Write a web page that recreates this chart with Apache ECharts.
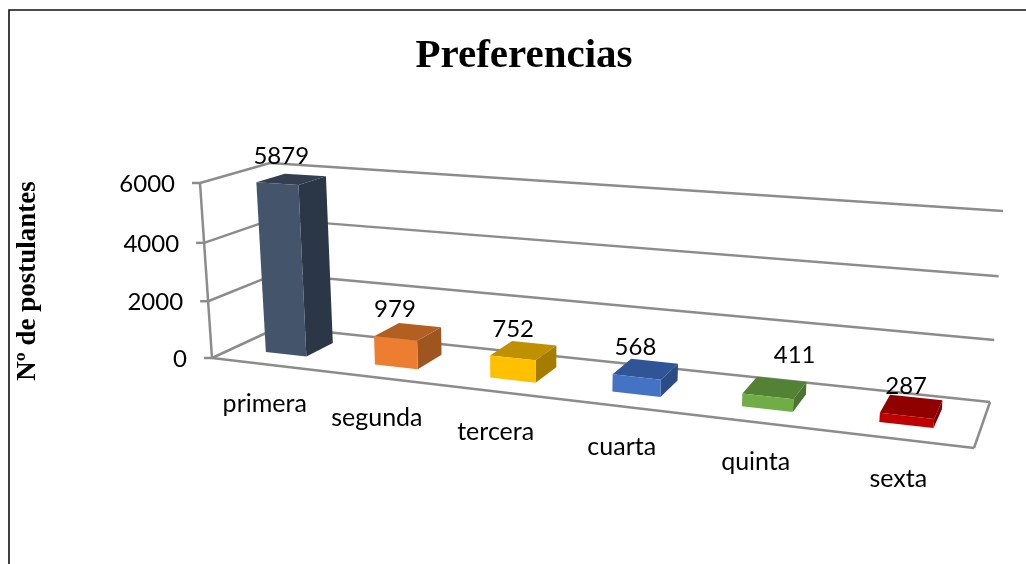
<!DOCTYPE html>
<html>
<head>
<meta charset="utf-8">
<style>
  html, body { margin: 0; padding: 0; background: #fff; }
  #chart { width: 1026px; height: 564px; }
</style>
<script src="https://cdn.jsdelivr.net/npm/echarts@6/dist/echarts.min.js"></script>
</head>
<body>
<div id="chart"></div>
<script>
const categories = ['primera', 'segunda', 'tercera', 'cuarta', 'quinta', 'sexta']
const values = [5879, 979, 752, 568, 411, 287]
const yTicks = [0, 2000, 4000, 6000]

// front, top, side
const palette = [
  ['#44546a', '#333f50', '#2b3747'],
  ['#ed7d31', '#b45f22', '#9f5520'],
  ['#ffc000', '#bf9000', '#a67c00'],
  ['#4472c4', '#2f5597', '#2b4c86'],
  ['#70ad47', '#548235', '#4a7430'],
  ['#c00000', '#900000', '#800000']
]
// hand moved labels in the original
const labelNudge = [[-14, -4], [-15, -1], [-11, 1], [-9, 1], [23, -9], [0, 4]]

const gridBox = { left: 212, top: 183, width: 762, height: 175 }
const axisColor = '#8c8c8c'
const labelFont = '24px Lato, "Noto Sans", sans-serif'
const catFont = '25px Lato, "Noto Sans", sans-serif'

// floor corners of the 3d box: front left, front right, back right, back left
const FL = [212, 358], FR = [974, 448], BR = [990, 402], BL = [279, 327]
const upFL = [-12, -175], upFR = [15, -205], upBR = [13, -191], upBL = [-9, -164]

const sx = FL[0] - FR[0] + BR[0] - BL[0]
const sy = FL[1] - FR[1] + BR[1] - BL[1]
const d1x = FR[0] - BR[0], d2x = BL[0] - BR[0]
const d1y = FR[1] - BR[1], d2y = BL[1] - BR[1]
const det = d1x * d2y - d2x * d1y
const g = (sx * d2y - d2x * sy) / det
const h = (d1x * sy - sx * d1y) / det

function project(t0, d, v0) {
  // the original's perspective is a bit softer than the plain homography
  const t = t0 + 0.045 * t0 * (1 - t0)
  const v = v0 - 0.04 * v0 * (1 - v0)
  const w = g * t + h * d + 1
  const x = ((FR[0] - FL[0] + g * FR[0]) * t + (BL[0] - FL[0] + h * BL[0]) * d + FL[0]) / w
  const y = ((FR[1] - FL[1] + g * FR[1]) * t + (BL[1] - FL[1] + h * BL[1]) * d + FL[1]) / w
  const up = [0, 1].map(k =>
    (1 - d) * ((1 - t) * upFL[k] + t * upFR[k]) + d * ((1 - t) * upBL[k] + t * upBR[k]))
  return [x + up[0] * v, y + up[1] * v]
}
function toT(px) { return (px - gridBox.left) / gridBox.width }
function toV(py) { return (gridBox.top + gridBox.height - py) / gridBox.height }

function line(a, b) {
  return {
    type: 'line',
    shape: { x1: a[0], y1: a[1], x2: b[0], y2: b[1] },
    style: { stroke: axisColor, lineWidth: 2.5 }
  }
}
function text(str, p, font, align) {
  return {
    type: 'text',
    x: p[0],
    y: p[1],
    style: { text: str, font: font || labelFont, fill: '#000', align: align || 'center', verticalAlign: 'middle' }
  }
}
function face(points, color) {
  return { type: 'polygon', shape: { points: points }, style: { fill: color } }
}

function renderWall(params, api) {
  const tick = api.value(1)
  const v = toV(api.coord([0, tick])[1])
  const step = toV(api.coord([0, 2000])[1])
  const a = project(0, 0, v), b = project(0, 1, v), c = project(1, 1, v)
  const children = [
    line([a[0] - 8, a[1]], a),
    line(a, b),
    line(b, c),
    text(String(tick), [a[0] - 25, a[1] + 1], labelFont, 'right')
  ]
  if (tick > 0) {
    children.push(line(a, project(0, 0, v - step)))
  } else {
    children.push(line(a, project(1, 0, 0)))
    children.push(line(project(1, 0, 0), c))
  }
  return { type: 'group', children: children }
}

function renderBar(params, api) {
  const i = params.dataIndex
  const p = api.coord([i, api.value(1)])
  const t = toT(p[0]), v = toV(p[1])
  const hw = 0.0315, d0 = 0.3, d1 = 0.72
  const col = palette[i]
  return {
    type: 'group',
    children: [
      face([project(t + hw, d0, 0), project(t + hw, d1, 0), project(t + hw, d1, v), project(t + hw, d0, v)], col[2]),
      face([project(t - hw, d0, v), project(t + hw, d0, v), project(t + hw, d1, v), project(t - hw, d1, v)], col[1]),
      face([project(t - hw, d0, 0), project(t + hw, d0, 0), project(t + hw, d0, v), project(t - hw, d0, v)], col[0])
    ]
  }
}

function renderLabels(params, api) {
  const i = params.dataIndex
  const p = api.coord([i, api.value(1)])
  const t = toT(p[0]), v = toV(p[1])
  const top = project(t, 0.72, v)
  const foot = project(t, 0, 0)
  return {
    type: 'group',
    children: [
      text(String(values[i]), [top[0] - 10 + labelNudge[i][0], top[1] - 15 + labelNudge[i][1]]),
      text(categories[i], [foot[0] - 1, foot[1] + 40], catFont)
    ]
  }
}

const chart = echarts.init(document.getElementById('chart'), null, { renderer: 'canvas' })
chart.setOption({
  backgroundColor: '#ffffff',
  animation: false,
  title: {
    text: 'Preferencias',
    left: 519,
    top: 31,
    textAlign: 'center',
    textStyle: { fontFamily: '"Liberation Serif", serif', fontWeight: 'bold', fontSize: 41, color: '#000' }
  },
  graphic: [
    {
      type: 'polyline',
      shape: { points: [[9, 570], [9, 10], [1030, 10]] },
      style: { fill: 'none', stroke: '#111', lineWidth: 1.6 },
      silent: true
    },
    {
      type: 'text',
      x: 28,
      y: 281,
      rotation: Math.PI / 2,
      style: {
        text: 'Nº de postulantes',
        font: 'bold 27px "Liberation Serif", serif',
        fill: '#000',
        align: 'center',
        verticalAlign: 'middle'
      }
    }
  ],
  grid: { left: gridBox.left, top: gridBox.top, width: gridBox.width, height: gridBox.height },
  xAxis: { type: 'category', data: categories, show: false },
  yAxis: { type: 'value', min: 0, max: 6000, interval: 2000, show: false },
  series: [
    { type: 'custom', z: 1, clip: false, data: yTicks.map(v => [0, v]), renderItem: renderWall },
    { type: 'custom', z: 2, clip: false, data: values.map((v, i) => [i, v]), renderItem: renderBar },
    { type: 'custom', z: 3, clip: false, data: values.map((v, i) => [i, v]), renderItem: renderLabels }
  ]
})
</script>
</body>
</html>
